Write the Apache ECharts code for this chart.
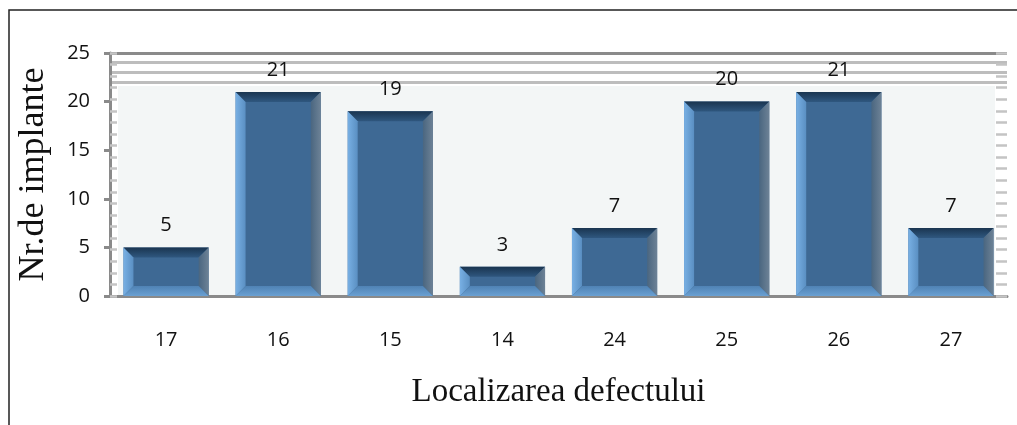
<!DOCTYPE html>
<html>
<head>
<meta charset="utf-8">
<script src="https://cdn.jsdelivr.net/npm/echarts@6/dist/echarts.min.js"></script>
<style>
  html, body { margin: 0; padding: 0; background: #fff; }
  #main { width: 1017px; height: 425px; }
</style>
</head>
<body>
<div id="main"></div>
<script>
// date
var categories = ['17', '16', '15', '14', '24', '25', '26', '27'];
var values = [5, 21, 19, 3, 7, 20, 21, 7];
var yTicks = [0, 5, 10, 15, 20, 25];
var wallLines = [22, 23, 24];   // liniile gri de sus ale peretelui
var wallTop = 25;
var floorTop = 21.6;            // fundalul gri deschis

var chart = echarts.init(document.getElementById('main'));

// bara cu efect de bizou (bevel)
function bevelBar(params, api) {
  var idx = api.value(0);
  var top = api.coord([idx, api.value(1)]);
  var base = api.coord([idx, 0]);
  var w = api.size([1, 0])[0] * 0.76;
  var x0 = top[0] - w / 2, x1 = top[0] + w / 2;
  var y0 = top[1], y1 = base[1];
  var b = Math.min(10, (y1 - y0) / 2.5);
  return {
    type: 'group',
    children: [
      { type: 'rect', shape: { x: x0, y: y0, width: w, height: y1 - y0 },
        style: { fill: '#3e6994' } },
      { type: 'polygon', shape: { points: [[x0, y0], [x1, y0], [x1 - b, y0 + b], [x0 + b, y0 + b]] },
        style: { fill: new echarts.graphic.LinearGradient(0, 0, 0, 1, [
          { offset: 0, color: '#1a3550' }, { offset: 1, color: '#2f577f' }]) } },
      { type: 'polygon', shape: { points: [[x0, y0], [x0 + b, y0 + b], [x0 + b, y1 - b], [x0, y1]] },
        style: { fill: new echarts.graphic.LinearGradient(0, 0, 1, 0, [
          { offset: 0, color: '#78b0e4' }, { offset: 1, color: '#5a8fc2' }]) } },
      { type: 'polygon', shape: { points: [[x1, y0], [x1, y1], [x1 - b, y1 - b], [x1 - b, y0 + b]] },
        style: { fill: new echarts.graphic.LinearGradient(0, 0, 1, 0, [
          { offset: 0, color: '#4a6680' }, { offset: 1, color: '#6d8296' }]) } },
      { type: 'polygon', shape: { points: [[x0, y1], [x1, y1], [x1 - b, y1 - b], [x0 + b, y1 - b]] },
        style: { fill: new echarts.graphic.LinearGradient(0, 0, 0, 1, [
          { offset: 0, color: '#4f82b4' }, { offset: 1, color: '#6aa0d2' }]) } },
      { type: 'text', x: top[0], y: y0 - 22, z2: 50,
        style: { text: String(api.value(1)), fill: '#111', font: '20px "Open Sans", sans-serif',
                 align: 'center', verticalAlign: 'middle' } }
    ]
  };
}

var barData = values.map(function (v, i) { return [i, v]; });

var option = {
  backgroundColor: '#fff',
  animation: false,
  grid: { left: 110, right: 10, top: 53, bottom: 129 },
  graphic: [
    { type: 'polyline', shape: { points: [[9, 425], [9, 10], [1017, 10]] },
      style: { stroke: '#222', lineWidth: 1.5, fill: null } }
  ],
  xAxis: {
    type: 'category',
    data: categories,
    axisLine: { lineStyle: { color: '#8a8a8a', width: 3 } },
    axisTick: { length: 8, lineStyle: { color: '#8a8a8a', width: 3 } },
    axisLabel: { margin: 34, fontSize: 20, color: '#111', fontFamily: 'Open Sans' },
    name: 'Localizarea defectului',
    nameLocation: 'middle',
    nameGap: 80,
    nameTextStyle: { fontFamily: 'Liberation Serif', fontSize: 33, color: '#111' }
  },
  yAxis: [
    {
      type: 'value', min: 0, max: 25, interval: 5,
      axisLine: { show: true, lineStyle: { color: '#8a8a8a', width: 3 } },
      axisTick: { show: true, length: 6, lineStyle: { color: '#8a8a8a', width: 3 } },
      axisLabel: { margin: 20, fontSize: 20, color: '#111', fontFamily: 'Open Sans',
                   formatter: function (v) { return yTicks.indexOf(v) >= 0 ? v : ''; } },
      splitLine: { show: false },
      name: 'Nr.de implante',
      nameLocation: 'middle',
      nameGap: 58,
      nameTextStyle: { fontFamily: 'Liberation Serif', fontSize: 36, color: '#111' }
    },
    {
      type: 'value', min: 0, max: 21, interval: 1, position: 'left',
      axisLine: { show: false },
      axisTick: { show: true, inside: true, length: 7, lineStyle: { color: '#c4c4c4', width: 2.5 } },
      axisLabel: { show: false },
      splitLine: { show: false }
    },
    {
      type: 'value', min: 0, max: 21, interval: 1, position: 'right',
      axisLine: { show: false },
      axisTick: { show: true, inside: true, length: 11, lineStyle: { color: '#c4c4c4', width: 2.5 } },
      axisLabel: { show: false },
      splitLine: { show: false }
    }
  ],
  series: [
    {
      type: 'custom', z: 1, data: [],
      renderItem: function () { return null; },
      markArea: {
        silent: true, z: 0,
        itemStyle: { color: '#f3f6f6' },
        data: [[{ yAxis: 0, x: 118 }, { yAxis: floorTop, x: 995 }]]
      },
      markLine: {
        silent: true, z: 0, symbol: 'none', label: { show: false },
        data: wallLines.map(function (v) {
          return { yAxis: v, lineStyle: { color: '#bdbdbd', width: 3, type: 'solid' } };
        }).concat([{ yAxis: wallTop, lineStyle: { color: '#8a8a8a', width: 3, type: 'solid' } }])
      }
    },
    {
      type: 'custom', z: 10,
      renderItem: bevelBar,
      encode: { x: 0, y: 1 },
      data: barData
    }
  ]
};

chart.setOption(option);
</script>
</body>
</html>
